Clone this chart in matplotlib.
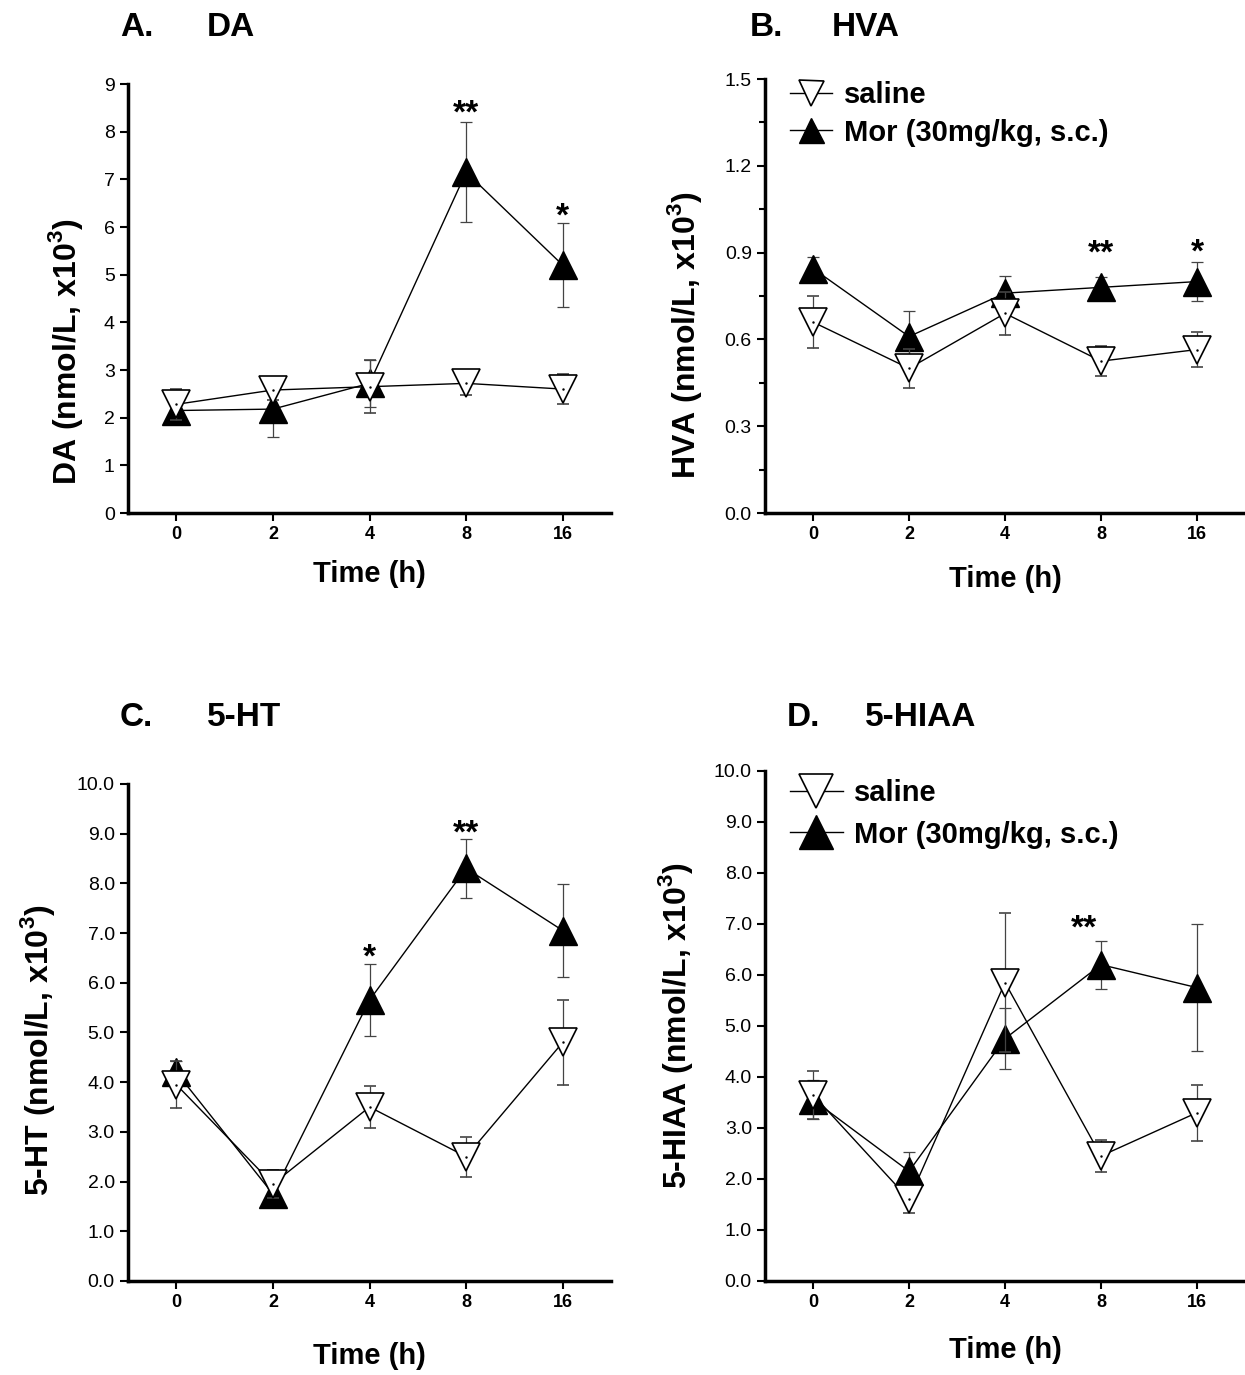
import matplotlib
matplotlib.use("Agg")
import matplotlib.pyplot as plt
from matplotlib.lines import Line2D
import numpy as np

plt.rcParams['font.family'] = ['Liberation Sans', 'DejaVu Sans']
plt.rcParams['mathtext.fontset'] = 'custom'
plt.rcParams['mathtext.rm'] = 'Liberation Sans'
plt.rcParams['mathtext.bf'] = 'Liberation Sans:bold'

times = ['0', '2', '4', '8', '16']

# DA
da_sal = [2.28, 2.58, 2.65, 2.72, 2.60]
da_sal_se = [0.32, 0.20, 0.55, 0.25, 0.31]
da_mor = [2.15, 2.18, 2.72, 7.15, 5.20]
da_mor_se = [0.20, 0.58, 0.50, 1.05, 0.88]

# HVA
hva_sal = [0.66, 0.50, 0.69, 0.525, 0.565]
hva_sal_se = [0.09, 0.067, 0.075, 0.053, 0.06]
hva_mor = [0.845, 0.61, 0.76, 0.78, 0.80]
hva_mor_se = [0.04, 0.09, 0.06, 0.035, 0.067]

# 5-HT
ht_sal = [3.95, 1.95, 3.50, 2.50, 4.80]
ht_sal_se = [0.47, 0.28, 0.42, 0.40, 0.85]
ht_mor = [4.20, 1.75, 5.65, 8.30, 7.05]
ht_mor_se = [0.22, 0.20, 0.72, 0.60, 0.94]

# 5-HIAA
hiaa_sal = [3.65, 1.60, 5.85, 2.45, 3.30]
hiaa_sal_se = [0.47, 0.27, 1.36, 0.31, 0.55]
hiaa_mor = [3.55, 2.15, 4.75, 6.20, 5.75]
hiaa_mor_se = [0.38, 0.37, 0.60, 0.47, 1.25]

fig = plt.figure(figsize=(12.45, 13.75), dpi=100)

panels = [
    # rect, ylabel, sal, sal_se, mor, mor_se, ymax, ticks, fmt, minor, stars, legend, ylabel pos, xlabel pad
    ([0.1028, 0.6269, 0.388, 0.312], 'DA', da_sal, da_sal_se, da_mor, da_mor_se,
     9, np.arange(0, 10, 1), '%d', None, [(3, 8.38, '**'), (4, 6.2, '*')], None,
     (-0.089, 0.375), 12),
    ([0.6145, 0.6269, 0.3855, 0.3156], 'HVA', hva_sal, hva_sal_se, hva_mor, hva_mor_se,
     1.5, np.arange(0, 1.51, 0.3), '%.1f', np.arange(0.15, 1.5, 0.3), [(3, 0.895, '**'), (4, 0.9, '*')],
     (21, 0.995, 1.45, 18, 0.32), (-0.127, 0.41), 16),
    ([0.1028, 0.0684, 0.388, 0.3615], '5-HT', ht_sal, ht_sal_se, ht_mor, ht_mor_se,
     10, np.arange(0, 10.1, 1), '%.1f', None, [(2, 6.5, '*'), (3, 9.0, '**')], None,
     (-0.147, 0.465), 22),
    ([0.6145, 0.0684, 0.3855, 0.371], '5-HIAA', hiaa_sal, hiaa_sal_se, hiaa_mor, hiaa_mor_se,
     10, np.arange(0, 10.1, 1), '%.1f', None, [(2.82, 6.9, '**')],
     (21, 0.983, 1.8, 25, 0.45), (-0.146, 0.50), 18),
]

x = np.arange(len(times))
for rect, ylab, sal, sal_se, mor, mor_se, ymax, yt, fmt, minor, stars, leg, lpos, xpad in panels:
    ax = fig.add_axes(rect)
    ax.errorbar(x, mor, yerr=mor_se, color='black', marker='^', markersize=20,
                markerfacecolor='black', markeredgecolor='black', lw=1,
                ecolor='#444444', elinewidth=0.9, capsize=4, capthick=0.9, zorder=3)
    ax.errorbar(x, sal, yerr=sal_se, color='black', marker='v', markersize=20,
                markerfacecolor='white', markeredgecolor='black', markeredgewidth=1.2, lw=1,
                ecolor='#444444', elinewidth=0.9, capsize=4, capthick=0.9, zorder=4)
    ax.plot(x, sal, ls='none', marker='.', markersize=1.5, color='black', zorder=5)

    ax.set_xlim(-0.5, 4.5)
    ax.set_ylim(0, ymax)
    ax.set_xticks(x)
    ax.set_xticklabels(times, fontweight='bold', fontsize=13)
    ax.set_yticks(yt)
    ax.set_yticklabels([fmt % v for v in yt], fontsize=14)
    if minor is not None:
        ax.set_yticks(minor, minor=True)
        ax.tick_params(axis='y', which='minor', length=4, width=1.5)
    ax.tick_params(axis='both', which='major', length=6, width=1.5, direction='out')
    for s in ['top', 'right']:
        ax.spines[s].set_visible(False)
    for s in ['left', 'bottom']:
        ax.spines[s].set_linewidth(2.5)

    ax.set_xlabel('Time (h)', fontsize=21, fontweight='bold', labelpad=xpad)
    ax.set_ylabel(ylab + r' (nmol/L, x10$^{\mathbf{3}}$)', fontsize=23, fontweight='bold')
    ax.yaxis.set_label_coords(lpos[0], lpos[1])

    for sx, sy, st in stars:
        ax.text(sx, sy, st, ha='center', va='center', fontsize=24, fontweight='bold')

    if leg is not None:
        h_sal = Line2D([], [], color='black', lw=1, marker='v', markersize=leg[3],
                       markerfacecolor='white', markeredgecolor='black', markeredgewidth=1.2)
        h_mor = Line2D([], [], color='black', lw=1, marker='^', markersize=leg[3],
                       markerfacecolor='black', markeredgecolor='black')
        ax.legend([h_sal, h_mor], ['saline', 'Mor (30mg/kg, s.c.)'], loc='upper left', frameon=False,
                  prop={'weight': 'bold', 'size': leg[0]},
                  handlelength=leg[2], handletextpad=0.4, labelspacing=leg[4],
                  borderaxespad=0, borderpad=0, bbox_to_anchor=(0.052, leg[1]))

# panel titles
fig.text(120 / 1245, 1 - 28 / 1375, 'A.', fontsize=24, fontweight='bold', va='center')
fig.text(207 / 1245, 1 - 28 / 1375, 'DA', fontsize=24, fontweight='bold', va='center')
fig.text(750 / 1245, 1 - 28 / 1375, 'B.', fontsize=24, fontweight='bold', va='center')
fig.text(832 / 1245, 1 - 28 / 1375, 'HVA', fontsize=24, fontweight='bold', va='center')
fig.text(120 / 1245, 1 - 717 / 1375, 'C.', fontsize=24, fontweight='bold', va='center')
fig.text(207 / 1245, 1 - 717 / 1375, '5-HT', fontsize=24, fontweight='bold', va='center')
fig.text(787 / 1245, 1 - 717 / 1375, 'D.', fontsize=24, fontweight='bold', va='center')
fig.text(865 / 1245, 1 - 717 / 1375, '5-HIAA', fontsize=24, fontweight='bold', va='center')

fig.savefig('out.png', dpi=100)
